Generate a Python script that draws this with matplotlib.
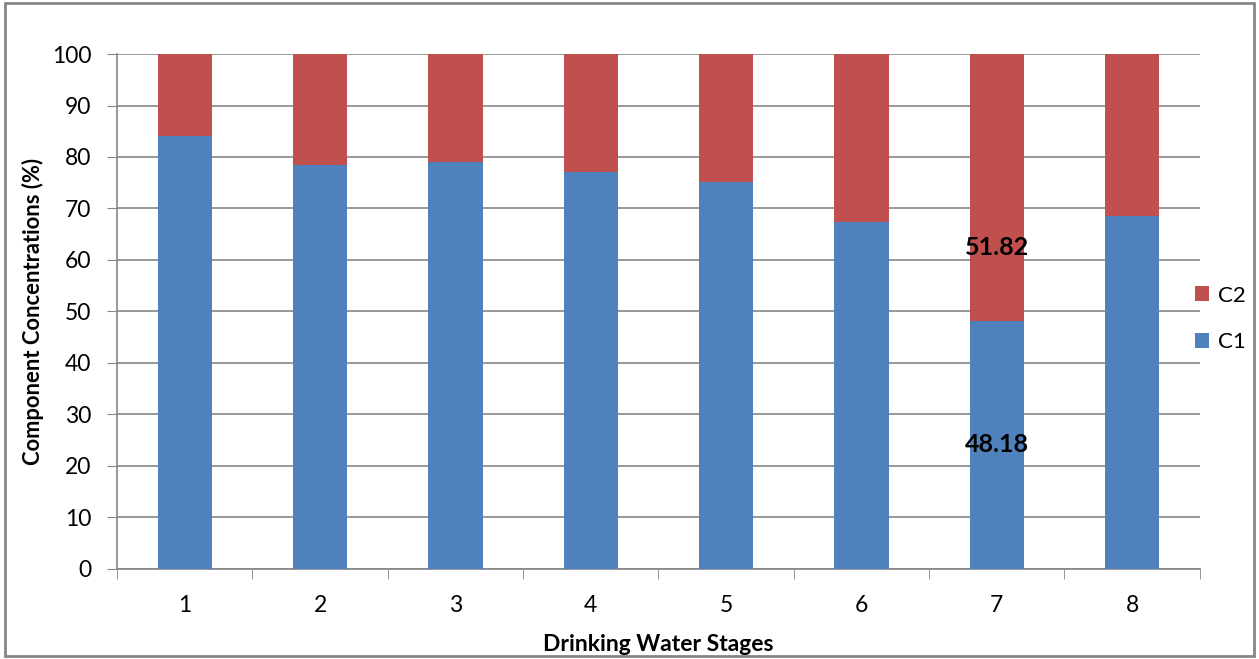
import numpy as np
import matplotlib
matplotlib.use("Agg")
from matplotlib import pyplot as plt
from matplotlib.patches import Rectangle

stages = [1, 2, 3, 4, 5, 6, 7, 8]
c1 = [84.0, 78.5, 79.0, 77.1, 75.1, 67.4, 48.18, 68.6]
c2 = [100 - v for v in c1]
c2[6] = 51.82

plt.rcParams['font.family'] = ['Lato', 'DejaVu Sans']

fig = plt.figure(figsize=(12.59, 6.59), dpi=100)
ax = fig.add_axes([0.093, 0.137, 0.860, 0.781])

x = np.array(stages)
ax.bar(x, c1, width=0.4, color='#4F81BD', label='C1', zorder=3)
ax.bar(x, c2, width=0.4, bottom=c1, color='#C0504D', label='C2', zorder=3)

# data labels on stage 7
ax.text(7, c1[6] / 2, f'{c1[6]:.2f}', ha='center', va='center',
        fontsize=18, fontweight='bold', zorder=4)
ax.text(7, 62.5, f'{c2[6]:.2f}', ha='center', va='center',
        fontsize=18, fontweight='bold', zorder=4)

ax.set_xlim(0.5, 8.5)
ax.set_ylim(0, 100)
ax.set_yticks(range(0, 101, 10))
ax.set_xticks(x)
ax.set_xticks(np.arange(0.5, 8.6, 1), minor=True)
ax.tick_params(axis='x', which='major', length=0, pad=19, labelsize=16.5)
ax.tick_params(axis='x', which='minor', length=7.5, color='#868686', direction='out')
ax.tick_params(axis='y', length=7.5, color='#868686', labelsize=16.5, pad=11)

ax.grid(axis='y', color='#878787', linewidth=1.2, zorder=0)
for side in ['top', 'right']:
    ax.spines[side].set_visible(False)
for side in ['left', 'bottom']:
    ax.spines[side].set_color('#868686')
    ax.spines[side].set_linewidth(1.2)

ax.set_xlabel('Drinking Water Stages', fontsize=16.5, fontweight='bold', labelpad=13)
ax.set_ylabel('Component Concentrations (%)', fontsize=15.8, fontweight='bold', labelpad=6)

handles, labels = ax.get_legend_handles_labels()
fig.legend(handles[::-1], labels[::-1], loc='center left',
           bbox_to_anchor=(0.933, 0.516), frameon=False, fontsize=16,
           handlelength=0.65, handleheight=0.65, labelspacing=1.2, handletextpad=0.4)

fig.patches.append(Rectangle((0.004, 0.005), 0.992, 0.99, transform=fig.transFigure,
                             fill=False, edgecolor='#868686', linewidth=2))

fig.savefig('out.png', dpi=100)
